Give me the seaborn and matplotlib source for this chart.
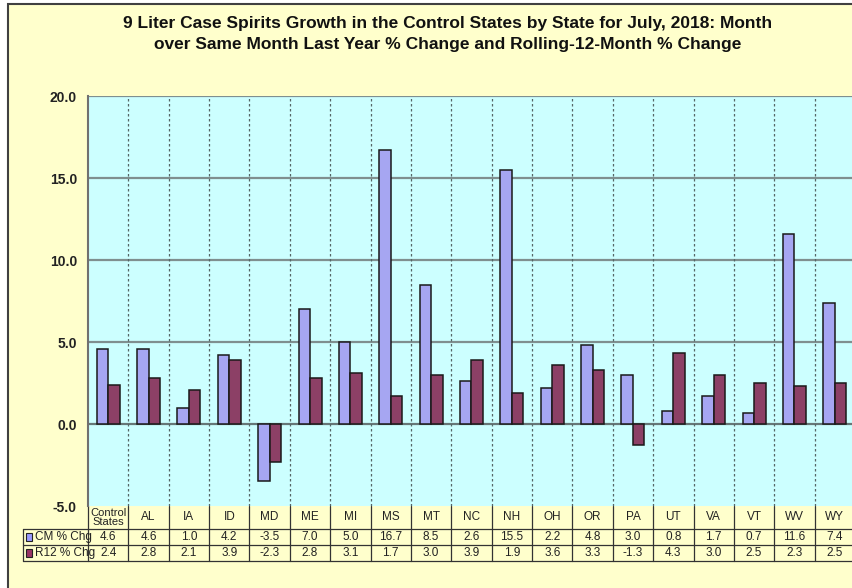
import numpy as np
import pandas as pd
import matplotlib
matplotlib.use("Agg")
import matplotlib.pyplot as plt
import seaborn as sns
from matplotlib.patches import Rectangle
from matplotlib.transforms import blended_transform_factory

states = ["Control\nStates", "AL", "IA", "ID", "MD", "ME", "MI", "MS", "MT", "NC",
          "NH", "OH", "OR", "PA", "UT", "VA", "VT", "WV", "WY"]
cm_chg = [4.6, 4.6, 1.0, 4.2, -3.5, 7.0, 5.0, 16.7, 8.5, 2.6,
          15.5, 2.2, 4.8, 3.0, 0.8, 1.7, 0.7, 11.6, 7.4]
r12_chg = [2.4, 2.8, 2.1, 3.9, -2.3, 2.8, 3.1, 1.7, 3.0, 3.9,
           1.9, 3.6, 3.3, -1.3, 4.3, 3.0, 2.5, 2.3, 2.5]
series = ["CM % Chg", "R12 % Chg"]
colors = ["#9999FF", "#993366"]

df = pd.DataFrame({"state": states * 2,
                   "series": [series[0]] * len(states) + [series[1]] * len(states),
                   "value": cm_chg + r12_chg})

sns.set_style("white")
plt.rcParams["font.family"] = ["Liberation Sans", "DejaVu Sans"]

fig = plt.figure(figsize=(8.52, 5.88), dpi=100, facecolor="white")
fig.patches.append(Rectangle((8 / 852, -0.01), 1.0, 1 - 4 / 588 + 0.01, transform=fig.transFigure,
                             facecolor="#FFFFCC", edgecolor="#404040", linewidth=1.5, zorder=-10))

W, H = 852, 588
ax = fig.add_axes([88 / W, 1 - 506 / H, 767 / W, 410 / H])
ax.set_facecolor("#CCFFFF")

sns.barplot(data=df, x="state", y="value", hue="series", palette=colors, width=0.57, gap=0,
            edgecolor="#1A1A1A", linewidth=1.1, legend=False, ax=ax, zorder=3)

ax.set_ylim(-5, 20)
ax.set_xlim(-0.5, len(states) - 0.5)
ax.set_yticks(np.arange(-5, 20.1, 5))
ax.set_yticklabels([f"{v:.1f}" for v in np.arange(-5, 20.1, 5)], fontsize=10, fontweight="bold", color="#222222")
ax.set_xticks([])
ax.set_xlabel("")
ax.set_ylabel("")
ax.tick_params(axis="y", length=4, color="#555555", pad=4)
for y in [0, 5, 10, 15, 20]:
    ax.axhline(y, color="#7F8F8F" if y else "#667777", linewidth=1.6, zorder=1)
for i in range(1, len(states)):
    ax.axvline(i - 0.5, color="#556666", linewidth=0.9, linestyle=(0, (2, 2)), zorder=1)
for s in ["top", "right", "bottom"]:
    ax.spines[s].set_visible(False)
ax.spines["left"].set_color("#707070")
ax.spines["left"].set_linewidth(1.5)

# data table under the plot
tr = blended_transform_factory(ax.transData, ax.transAxes)
rows = [0, -23 / 410, -39 / 410, -55 / 410]
left = -65 / 767
line_kw = dict(color="#333333", linewidth=0.9, clip_on=False)
for i in range(len(states) + 1):
    ax.plot([i - 0.5, i - 0.5], [rows[0], rows[3]], transform=tr, **line_kw)
ax.plot([left, left], [rows[1], rows[3]], transform=ax.transAxes, **line_kw)
for r in rows[1:]:
    ax.plot([left, 1.0], [r, r], transform=ax.transAxes, **line_kw)
for i, st in enumerate(states):
    ax.text(i, (rows[0] + rows[1]) / 2, st, transform=tr, ha="center", va="center",
            fontsize=8 if "\n" in st else 8.5, linespacing=0.95, color="#222222")
    ax.text(i, (rows[1] + rows[2]) / 2, f"{cm_chg[i]:.1f}", transform=tr, ha="center", va="center",
            fontsize=8.5, color="#222222")
    ax.text(i, (rows[2] + rows[3]) / 2, f"{r12_chg[i]:.1f}", transform=tr, ha="center", va="center",
            fontsize=8.5, color="#222222")
for k, name in enumerate(series):
    yc = (rows[k + 1] + rows[k + 2]) / 2
    ax.add_patch(Rectangle((left + 0.004, yc - 0.009), 0.008, 0.018, transform=ax.transAxes,
                           facecolor=colors[k], edgecolor="#222222", linewidth=0.8, clip_on=False))
    ax.text(left + 0.015, yc, name, transform=ax.transAxes, ha="left", va="center",
            fontsize=8.5, color="#222222")

fig.text(448 / W, 1 - 34 / H,
         "9 Liter Case Spirits Growth in the Control States by State for July, 2018: Month\n"
         "over Same Month Last Year % Change and Rolling-12-Month % Change",
         ha="center", va="center", fontsize=12.5, fontweight="bold", linespacing=1.5, color="#111111")

fig.savefig("out.png", dpi=100, facecolor=fig.get_facecolor())
